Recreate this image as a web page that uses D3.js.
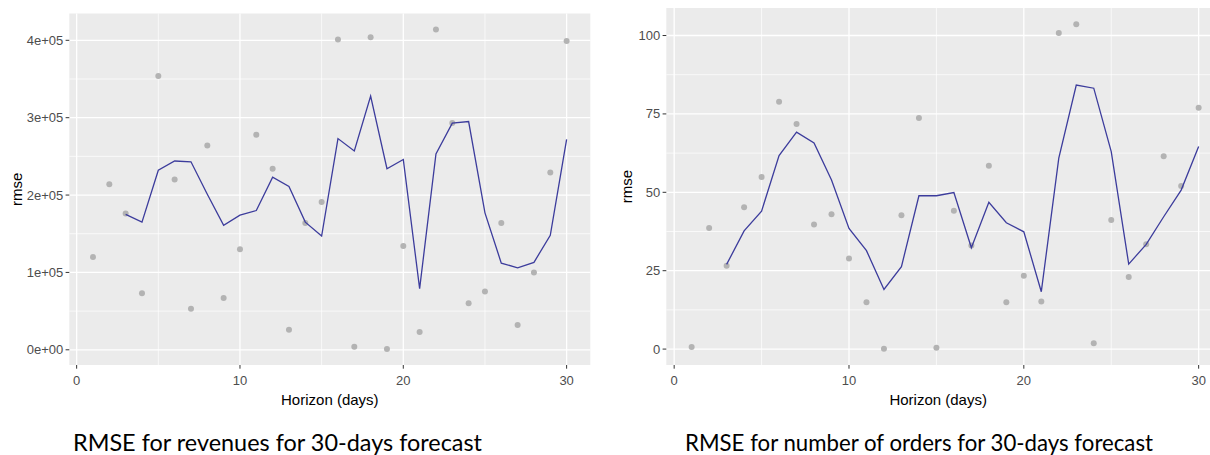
<!DOCTYPE html>
<html>
<head>
<meta charset="utf-8">
<script src="https://cdn.jsdelivr.net/npm/d3@7"></script>
<style>
    body { margin: 0; background: #ffffff; }
    svg { display: block; }
</style>
</head>
<body>
<div id="chart"></div>
<script>
/*global d3*/
(function () {
    'use strict';

    var width = 1210,
        height = 455,

        horizon = [1, 2, 3, 4, 5, 6, 7, 8, 9, 10, 11, 12, 13, 14, 15,
            16, 17, 18, 19, 20, 21, 22, 23, 24, 25, 26, 27, 28, 29, 30],
        lineHorizon = horizon.slice(2),

        // revenues: raw rmse points and the rolling line (starts at day 3)
        revPoints = [120000, 214000, 176000, 73000, 354000, 220000, 53000, 264000, 67000, 130000,
            278000, 234000, 26000, 164000, 191000, 401000, 4000, 404000, 1000, 134000,
            23000, 414000, 293000, 60000, 75500, 164000, 32000, 100000, 229000, 399000],
        revLine = [175000, 165000, 232000, 244000, 243000, 201000, 161000, 174000, 180000, 223000,
            211000, 165000, 147000, 273000, 257000, 328000, 234000, 246000, 79000, 253000,
            293000, 295000, 177000, 112000, 106000, 113000, 148000, 272000],
        revTicks = [0, 100000, 200000, 300000, 400000],
        revTickLabels = ['0e+00', '1e+05', '2e+05', '3e+05', '4e+05'],

        // number of orders
        ordPoints = [0.7, 38.6, 26.6, 45.2, 54.9, 78.9, 71.8, 39.7, 43.0, 28.9,
            14.9, 0.1, 42.7, 73.7, 0.4, 44.1, 33.0, 58.5, 14.9, 23.4,
            15.2, 100.8, 103.6, 1.9, 41.2, 23.0, 33.4, 61.5, 52.0, 77.0],
        ordLine = [27.0, 37.7, 44.0, 61.7, 69.2, 65.7, 53.9, 38.5, 31.4, 19.0,
            26.3, 48.9, 48.9, 49.9, 32.3, 46.8, 40.3, 37.4, 18.3, 60.9,
            84.2, 83.2, 63.0, 27.1, 33.4, 42.2, 50.7, 64.6],
        ordTicks = [0, 25, 50, 75, 100],
        ordTickLabels = ['0', '25', '50', '75', '100'],

        xTicks = [0, 10, 20, 30],
        xTickLabels = ['0', '10', '20', '30'],

        captions = ['RMSE for revenues for 30-days forecast',
            'RMSE for number of orders for 30-days forecast'],

        svg = d3.select('#chart')
            .append('svg')
            .attr('width', width)
            .attr('height', height),

        actions = {
            expand: function (lo, hi) {
                var pad = (hi - lo) * 0.05;
                return [lo - pad, hi + pad];
            },

            midpoints: function (ticks) {
                var out = [], i;
                for (i = 0; i < ticks.length - 1; i += 1) {
                    out.push((ticks[i] + ticks[i + 1]) / 2);
                }
                return out;
            },

            drawPanel: function (p) {
                var g = svg.append('g'),
                    x = d3.scaleLinear()
                        .domain(actions.expand(d3.min(horizon), d3.max(horizon)))
                        .range([p.x0, p.x1]),
                    yExt = d3.extent(p.points.concat(p.line)),
                    y = d3.scaleLinear()
                        .domain(actions.expand(yExt[0], yExt[1]))
                        .range([p.y1, p.y0]),
                    xMinor = actions.midpoints(xTicks),
                    yMinor = actions.midpoints(p.yTicks),
                    line = d3.line()
                        .x(function (d, i) { return x(lineHorizon[i]); })
                        .y(function (d) { return y(d); });

                g.append('rect')
                    .attr('x', p.x0)
                    .attr('y', p.y0)
                    .attr('width', p.x1 - p.x0)
                    .attr('height', p.y1 - p.y0)
                    .style('fill', '#ebebeb');

                // grid, minor first
                g.selectAll('.ygrid-minor').data(yMinor).enter().append('line')
                    .attr('x1', p.x0).attr('x2', p.x1)
                    .attr('y1', y).attr('y2', y)
                    .style('stroke', '#ffffff').style('stroke-width', '0.7px');
                g.selectAll('.xgrid-minor').data(xMinor).enter().append('line')
                    .attr('y1', p.y0).attr('y2', p.y1)
                    .attr('x1', x).attr('x2', x)
                    .style('stroke', '#ffffff').style('stroke-width', '0.7px');
                g.selectAll('.ygrid').data(p.yTicks).enter().append('line')
                    .attr('x1', p.x0).attr('x2', p.x1)
                    .attr('y1', y).attr('y2', y)
                    .style('stroke', '#ffffff').style('stroke-width', '1.3px');
                g.selectAll('.xgrid').data(xTicks).enter().append('line')
                    .attr('y1', p.y0).attr('y2', p.y1)
                    .attr('x1', x).attr('x2', x)
                    .style('stroke', '#ffffff').style('stroke-width', '1.3px');

                // points
                g.selectAll('.pt').data(p.points).enter().append('circle')
                    .attr('cx', function (d, i) { return x(horizon[i]); })
                    .attr('cy', function (d) { return y(d); })
                    .attr('r', 3)
                    .style('fill', '#b3b3b3');

                g.append('path')
                    .datum(p.line)
                    .attr('d', line)
                    .style('fill', 'none')
                    .style('stroke', '#3c3c9c')
                    .style('stroke-width', '1.3px');

                // y axis
                g.selectAll('.ytick').data(p.yTicks).enter().append('line')
                    .attr('x1', p.x0 - 3.7).attr('x2', p.x0)
                    .attr('y1', y).attr('y2', y)
                    .style('stroke', '#333333').style('stroke-width', '1px');
                g.selectAll('.ylab').data(p.yTicks).enter().append('text')
                    .attr('x', p.x0 - 6)
                    .attr('y', y)
                    .attr('dy', '0.35em')
                    .attr('text-anchor', 'end')
                    .style('font-family', '"Liberation Sans", Arial, sans-serif')
                    .style('font-size', '13px')
                    .style('fill', '#4d4d4d')
                    .text(function (d, i) { return p.yLabels[i]; });

                // x axis
                g.selectAll('.xtick').data(xTicks).enter().append('line')
                    .attr('y1', p.y1).attr('y2', p.y1 + 3.7)
                    .attr('x1', x).attr('x2', x)
                    .style('stroke', '#333333').style('stroke-width', '1px');
                g.selectAll('.xlab').data(xTicks).enter().append('text')
                    .attr('x', x)
                    .attr('y', p.y1 + 20)
                    .attr('text-anchor', 'middle')
                    .style('font-family', '"Liberation Sans", Arial, sans-serif')
                    .style('font-size', '13px')
                    .style('fill', '#4d4d4d')
                    .text(function (d, i) { return xTickLabels[i]; });

                g.append('text')
                    .attr('x', (p.x0 + Math.min(p.x1, width)) / 2)
                    .attr('y', p.y1 + 40)
                    .attr('text-anchor', 'middle')
                    .style('font-family', '"Liberation Sans", Arial, sans-serif')
                    .style('font-size', '15px')
                    .style('fill', '#000000')
                    .text('Horizon (days)');

                g.append('text')
                    .attr('transform', 'translate(' + p.yTitleX + ',' + ((p.y0 + p.y1) / 2) + ') rotate(-90)')
                    .attr('dy', '0.35em')
                    .attr('text-anchor', 'middle')
                    .style('font-family', '"Liberation Sans", Arial, sans-serif')
                    .style('font-size', '15px')
                    .style('fill', '#000000')
                    .text('rmse');

                g.append('text')
                    .attr('x', p.capX)
                    .attr('y', 451)
                    .style('font-family', 'Lato, "Open Sans", sans-serif')
                    .style('font-size', '24px')
                    .style('fill', '#000000')
                    .attr('textLength', p.capW)
                    .attr('lengthAdjust', 'spacingAndGlyphs')
                    .text(p.caption);
            }
        };

    actions.drawPanel({
        x0: 69.3, x1: 590.3, y0: 13.5, y1: 365,
        points: revPoints, line: revLine,
        yTicks: revTicks, yLabels: revTickLabels,
        yTitleX: 17,
        capX: 73, capW: 409, caption: captions[0]
    });

    actions.drawPanel({
        x0: 666.3, x1: 1224, y0: 8, y1: 365,
        points: ordPoints, line: ordLine,
        yTicks: ordTicks, yLabels: ordTickLabels,
        yTitleX: 627,
        capX: 685, capW: 468, caption: captions[1]
    });

}());
</script>
</body>
</html>
